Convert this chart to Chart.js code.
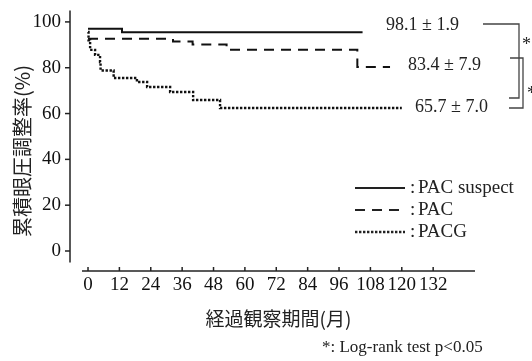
<!DOCTYPE html>
<html>
<head>
<meta charset="utf-8">
<script src="https://cdn.jsdelivr.net/npm/chart.js@4.4.1/dist/chart.umd.min.js"></script>
<style>
  html, body { margin: 0; padding: 0; background: #fff; }
</style>
</head>
<body>
<canvas id="kmChart" width="532" height="361"></canvas>
<script>
// tick labels
const xTicks = [0, 12, 24, 36, 48, 60, 72, 84, 96, 108, 120, 132];
const yTicks = [0, 20, 40, 60, 80, 100];

// series (months, cumulative rate %)
const seriesNames = ["PAC suspect", "PAC", "PACG"];
const suspectMonths = [0, 13, 105];
const suspectRate = [97, 95.5, 95.5];
const pacMonths = [0, 32.5, 40, 53, 103, 115.5];
const pacRate = [92.6, 91.5, 90.1, 87.8, 80.3, 80.3];
const pacgMonths = [0, 0.2, 0.8, 2.7, 4.6, 4.8, 9.8, 18.7, 22.6, 31.4, 40.2, 50.5, 120];
const pacgRate = [95.6, 92, 87.8, 85.6, 82.5, 78.8, 75.5, 73.8, 71.6, 69.4, 65.9, 62.4, 62.4];
const endLabels = ["98.1 ± 1.9", "83.4 ± 7.9", "65.7 ± 7.0"];

const serif = "'Liberation Serif', 'Times New Roman', serif";
const jp = "'Noto Sans CJK JP', sans-serif";
const dashes = [[], [10, 7], [2.4, 1.6]];
const widths = [2, 2, 2.4];

function toPoints(xs, ys) {
  return xs.map((m, i) => ({ x: m, y: ys[i] }));
}

function makeSet(i, xs, ys) {
  return {
    label: seriesNames[i],
    data: toPoints(xs, ys),
    borderColor: "#111",
    borderWidth: widths[i],
    borderDash: dashes[i],
    pointRadius: 0,
    stepped: true,
    fill: false
  };
}

const overlay = {
  id: "overlay",
  afterDraw(chart) {
    const { ctx, chartArea: a, scales: { x, y } } = chart;
    const line = (x1, y1, x2, y2) => {
      ctx.beginPath(); ctx.moveTo(x1, y1); ctx.lineTo(x2, y2); ctx.stroke();
    };
    ctx.save();
    ctx.strokeStyle = "#222";
    ctx.lineWidth = 1.5;

    // detached y axis
    const ax = a.left - 12;
    line(ax, y.getPixelForValue(105), ax, y.getPixelForValue(-5));
    yTicks.forEach(v => {
      const py = y.getPixelForValue(v);
      line(ax - 5, py, ax, py);
    });

    // x axis with upward ticks
    line(a.left, a.bottom, a.right, a.bottom);
    xTicks.forEach(v => {
      const px = x.getPixelForValue(v);
      line(px, a.bottom - 4, px, a.bottom);
    });

    // y title
    ctx.fillStyle = "#222";
    ctx.save();
    ctx.translate(22, 151);
    ctx.rotate(-Math.PI / 2);
    ctx.font = "20px " + jp;
    ctx.textAlign = "center";
    ctx.textBaseline = "middle";
    ctx.fillText("累積眼圧調整率(%)", 0, 0);
    ctx.restore();

    // legend
    ctx.font = "19px " + serif;
    ctx.textBaseline = "middle";
    ctx.textAlign = "left";
    seriesNames.forEach((name, i) => {
      const ly = 188 + 22 * i;
      ctx.lineWidth = widths[i];
      ctx.setLineDash(dashes[i]);
      line(355, ly, 405, ly);
      ctx.setLineDash([]);
      ctx.fillText(":", 410, ly);
      ctx.fillText(name, 418, ly);
    });

    // end values
    ctx.font = "18px " + serif;
    const lx = [386, 408, 415], lyy = [25, 65, 107];
    endLabels.forEach((t, i) => ctx.fillText(t, lx[i], lyy[i]));

    // brackets
    ctx.strokeStyle = "#444";
    ctx.lineWidth = 1.3;
    ctx.beginPath();
    ctx.moveTo(483, 24); ctx.lineTo(519, 24); ctx.lineTo(519, 98); ctx.lineTo(509, 98);
    ctx.stroke();
    ctx.beginPath();
    ctx.moveTo(510, 58); ctx.lineTo(523, 58); ctx.lineTo(523, 108); ctx.lineTo(509, 108);
    ctx.stroke();
    ctx.font = "18px " + serif;
    ctx.fillText("*", 522, 45);
    ctx.fillText("*", 527, 94);

    // footnote
    ctx.font = "17px " + serif;
    ctx.fillText("*: Log-rank test p<0.05", 322, 348);
    ctx.restore();
  }
};

new Chart(document.getElementById("kmChart"), {
  type: "line",
  data: {
    datasets: [
      makeSet(0, suspectMonths, suspectRate),
      makeSet(1, pacMonths, pacRate),
      makeSet(2, pacgMonths, pacgRate)
    ]
  },
  options: {
    responsive: false,
    animation: false,
    devicePixelRatio: 1,
    layout: { padding: { left: 0, right: 57, top: 10, bottom: 0 } },
    plugins: { legend: { display: false }, tooltip: { enabled: false } },
    scales: {
      x: {
        type: "linear",
        min: -2.3,
        max: 148,
        afterBuildTicks: s => { s.ticks = xTicks.map(v => ({ value: v })); },
        afterFit: s => { s.height = 90; s.paddingLeft = 0; s.paddingRight = 0; },
        grid: { display: false, tickLength: 0 },
        border: { display: false },
        ticks: { color: "#111", font: { family: serif, size: 19 }, padding: 3, maxRotation: 0, autoSkip: false },
        title: {
          display: true,
          text: "経過観察期間(月)",
          color: "#222",
          font: { family: jp, size: 19 },
          padding: { top: 4, bottom: 31 }
        }
      },
      y: {
        min: -8.73,
        max: 105.2,
        afterBuildTicks: s => { s.ticks = yTicks.map(v => ({ value: v })); },
        afterFit: s => { s.width = 82; s.paddingTop = 0; s.paddingBottom = 0; },
        grid: { display: false, tickLength: 0 },
        border: { display: false },
        ticks: { color: "#111", font: { family: serif, size: 19 }, padding: 21 }
      }
    }
  },
  plugins: [overlay]
});
</script>
</body>
</html>
